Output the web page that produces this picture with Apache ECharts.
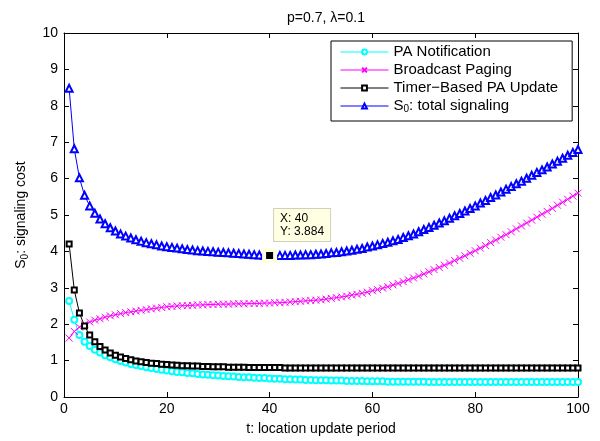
<!DOCTYPE html>
<html>
<head>
<meta charset="utf-8">
<script src="https://cdn.jsdelivr.net/npm/echarts@6/dist/echarts.min.js"></script>
<style>
  html, body { margin: 0; padding: 0; background: #fff; }
  #chart { width: 600px; height: 441px; }
</style>
</head>
<body>
<div id="chart"></div>
<script>
// t: location update period
var periods = [
  1, 2, 3, 4, 5, 6, 7, 8, 9, 10, 11, 12, 13, 14, 15, 16, 17, 18, 19, 20,
  21, 22, 23, 24, 25, 26, 27, 28, 29, 30, 31, 32, 33, 34, 35, 36, 37, 38, 39, 40,
  41, 42, 43, 44, 45, 46, 47, 48, 49, 50, 51, 52, 53, 54, 55, 56, 57, 58, 59, 60,
  61, 62, 63, 64, 65, 66, 67, 68, 69, 70, 71, 72, 73, 74, 75, 76, 77, 78, 79, 80,
  81, 82, 83, 84, 85, 86, 87, 88, 89, 90, 91, 92, 93, 94, 95, 96, 97, 98, 99, 100
];

// PA Notification
var paNotification = [
  2.64, 2.12, 1.70, 1.52, 1.40, 1.30, 1.22, 1.15, 1.09, 1.04, 0.99, 0.95, 0.91, 0.88, 0.85, 0.82, 0.80, 0.77, 0.75, 0.73,
  0.71, 0.69, 0.68, 0.66, 0.65, 0.63, 0.62, 0.61, 0.60, 0.59, 0.58, 0.57, 0.56, 0.55, 0.54, 0.54, 0.53, 0.52, 0.52, 0.51,
  0.50, 0.50, 0.49, 0.49, 0.48, 0.48, 0.47, 0.47, 0.46, 0.46, 0.46, 0.45, 0.45, 0.45, 0.44, 0.44, 0.44, 0.44, 0.43, 0.43,
  0.43, 0.43, 0.42, 0.42, 0.42, 0.42, 0.42, 0.42, 0.42, 0.42, 0.41, 0.41, 0.41, 0.41, 0.41, 0.41, 0.41, 0.41, 0.41, 0.41,
  0.41, 0.41, 0.41, 0.41, 0.41, 0.41, 0.41, 0.41, 0.41, 0.41, 0.41, 0.41, 0.41, 0.41, 0.41, 0.41, 0.41, 0.41, 0.41, 0.41
];

// Broadcast Paging
var broadcastPaging = [
  1.62, 1.80, 1.92, 2.00, 2.06, 2.11, 2.15, 2.19, 2.23, 2.26, 2.29, 2.32, 2.34, 2.36, 2.38, 2.40, 2.42, 2.44, 2.46, 2.48,
  2.49, 2.50, 2.51, 2.51, 2.52, 2.53, 2.53, 2.54, 2.54, 2.55, 2.55, 2.55, 2.56, 2.56, 2.56, 2.57, 2.57, 2.57, 2.58, 2.58,
  2.59, 2.59, 2.60, 2.61, 2.62, 2.63, 2.64, 2.65, 2.66, 2.67, 2.69, 2.71, 2.73, 2.75, 2.77, 2.80, 2.82, 2.85, 2.88, 2.92,
  2.95, 2.99, 3.03, 3.08, 3.12, 3.17, 3.22, 3.27, 3.32, 3.38, 3.44, 3.50, 3.56, 3.62, 3.68, 3.75, 3.81, 3.88, 3.95, 4.02,
  4.09, 4.16, 4.24, 4.31, 4.39, 4.46, 4.54, 4.62, 4.70, 4.78, 4.86, 4.94, 5.02, 5.10, 5.18, 5.27, 5.35, 5.43, 5.52, 5.60
];

// Timer-Based PA Update
var timerUpdate = [
  4.20, 2.94, 2.31, 1.95, 1.70, 1.52, 1.39, 1.29, 1.21, 1.15, 1.10, 1.06, 1.02, 0.99, 0.97, 0.95, 0.93, 0.92, 0.90, 0.89,
  0.88, 0.87, 0.86, 0.86, 0.85, 0.85, 0.84, 0.84, 0.83, 0.83, 0.83, 0.82, 0.82, 0.82, 0.82, 0.81, 0.81, 0.81, 0.81, 0.81,
  0.81, 0.81, 0.80, 0.80, 0.80, 0.80, 0.80, 0.80, 0.80, 0.80, 0.80, 0.80, 0.80, 0.80, 0.80, 0.80, 0.80, 0.80, 0.80, 0.80,
  0.80, 0.80, 0.80, 0.80, 0.80, 0.80, 0.80, 0.80, 0.80, 0.80, 0.80, 0.80, 0.80, 0.80, 0.80, 0.80, 0.80, 0.80, 0.80, 0.80,
  0.80, 0.80, 0.80, 0.80, 0.80, 0.80, 0.80, 0.80, 0.80, 0.80, 0.80, 0.80, 0.80, 0.80, 0.80, 0.80, 0.80, 0.80, 0.80, 0.80
];

// S0: total signaling
var totalSignaling = [
  8.48, 6.82, 6.02, 5.54, 5.25, 5.05, 4.89, 4.76, 4.65, 4.56, 4.48, 4.42, 4.37, 4.32, 4.28, 4.24, 4.21, 4.18, 4.15, 4.13,
  4.11, 4.09, 4.07, 4.05, 4.04, 4.02, 4.01, 4.00, 3.99, 3.98, 3.97, 3.96, 3.95, 3.94, 3.93, 3.92, 3.91, 3.90, 3.89, 3.884,
  3.89, 3.89, 3.89, 3.89, 3.90, 3.90, 3.91, 3.91, 3.92, 3.93, 3.94, 3.96, 3.97, 3.99, 4.01, 4.03, 4.06, 4.08, 4.12, 4.15,
  4.18, 4.22, 4.25, 4.29, 4.33, 4.38, 4.43, 4.48, 4.54, 4.60, 4.66, 4.72, 4.78, 4.84, 4.91, 4.98, 5.04, 5.11, 5.18, 5.25,
  5.33, 5.40, 5.48, 5.55, 5.63, 5.71, 5.78, 5.86, 5.93, 6.01, 6.09, 6.17, 6.24, 6.32, 6.40, 6.48, 6.56, 6.64, 6.72, 6.80
];

var xTicks = [0, 20, 40, 60, 80, 100];
var yTicks = [0, 1, 2, 3, 4, 5, 6, 7, 8, 9, 10];

// data tip
var tipX = 40;
var tipY = 3.884;

var FONT = '"Liberation Sans", Arial, Helvetica, sans-serif';

function pairs(ys) {
  return periods.map(function (t, i) { return [t, ys[i]]; });
}

var subRich = {
  sub: { fontSize: 10, fontFamily: FONT, color: '#000', verticalAlign: 'bottom', padding: [7, 0, 0, 0] }
};

function axisPair(isX, pos) {
  var main = pos === 'bottom' || pos === 'left';
  return {
    type: 'value',
    position: pos,
    min: isX ? xTicks[0] : yTicks[0],
    max: isX ? xTicks[xTicks.length - 1] : yTicks[yTicks.length - 1],
    interval: isX ? 20 : 1,
    axisLine: { show: true, onZero: false, lineStyle: { color: '#000', width: 1 } },
    axisTick: { show: true, inside: true, length: 5, lineStyle: { color: '#000' } },
    axisLabel: { show: main, color: '#000', fontSize: 14, fontFamily: FONT, margin: isX ? 5 : 6 },
    splitLine: { show: false }
  };
}

var xMain = axisPair(true, 'bottom');
xMain.name = 't: location update period';
xMain.nameLocation = 'middle';
xMain.nameGap = 25;
xMain.nameTextStyle = { color: '#000', fontSize: 14, fontFamily: FONT };

var yMain = axisPair(false, 'left');
yMain.name = 'S{sub|0}: signaling cost';
yMain.nameLocation = 'middle';
yMain.nameGap = 34;
yMain.nameTextStyle = { color: '#000', fontSize: 14, fontFamily: FONT, rich: subRich };

function lineSeries(name, ys, color, symbol, size) {
  return {
    name: name,
    type: 'line',
    data: pairs(ys),
    xAxisIndex: 0,
    yAxisIndex: 0,
    symbol: symbol,
    symbolSize: size,
    showAllSymbol: true,
    animation: false,
    lineStyle: { color: color, width: 1 },
    itemStyle: { color: color, borderColor: color, borderWidth: 1 }
  };
}

var series = [
  lineSeries('PA Notification', paNotification, '#00ffff', 'emptyCircle', 6),
  lineSeries('Broadcast Paging', broadcastPaging, '#ff00ff', 'path://M0,0L10,10M10,0L0,10', 7),
  lineSeries('Timer\u2212Based PA Update', timerUpdate, '#000000', 'emptyRect', 5),
  lineSeries('S0: total signaling', totalSignaling, '#0000ff', 'emptyTriangle', 7)
];

series[3].markPoint = {
  animation: false,
  symbol: 'rect',
  symbolSize: 11,
  itemStyle: { color: '#000', borderColor: '#ffffe1', borderWidth: 4 },
  label: {
    show: true,
    position: [12, -39],
    align: 'left',
    verticalAlign: 'top',
    formatter: 'X: ' + tipX + '\nY: ' + tipY,
    color: '#000',
    fontSize: 12,
    fontFamily: FONT,
    lineHeight: 13,
    backgroundColor: '#ffffe1',
    borderColor: '#d0d0c0',
    borderWidth: 1,
    padding: [3, 6, 3, 6]
  },
  data: [{ coord: [tipX, tipY] }]
};

var chart = echarts.init(document.getElementById('chart'), null, { renderer: 'canvas' });
chart.setOption({
  animation: false,
  backgroundColor: '#fff',
  title: {
    text: 'p=0.7, \u03bb=0.1',
    left: 321,
    textAlign: 'center',
    top: 6,
    textStyle: { color: '#000', fontSize: 14, fontWeight: 'normal', fontFamily: FONT }
  },
  grid: { left: 64, right: 22, top: 33, bottom: 37 },
  legend: {
    orient: 'vertical',
    left: 331,
    top: 41,
    padding: [3, 14, 7, 9],
    itemGap: 2,
    itemWidth: 48,
    itemHeight: 6,
    borderColor: '#000',
    borderWidth: 1,
    borderRadius: 0,
    backgroundColor: '#fff',
    lineStyle: { width: 1 },
    data: series.map(function (s) { return s.name; }),
    formatter: function (n) { return n === 'S0: total signaling' ? 'S{sub|0}: total signaling' : n; },
    textStyle: { color: '#000', fontSize: 15, fontFamily: FONT, lineHeight: 16, rich: subRich }
  },
  xAxis: [xMain, axisPair(true, 'top')],
  yAxis: [yMain, axisPair(false, 'right')],
  series: series
});
</script>
</body>
</html>
